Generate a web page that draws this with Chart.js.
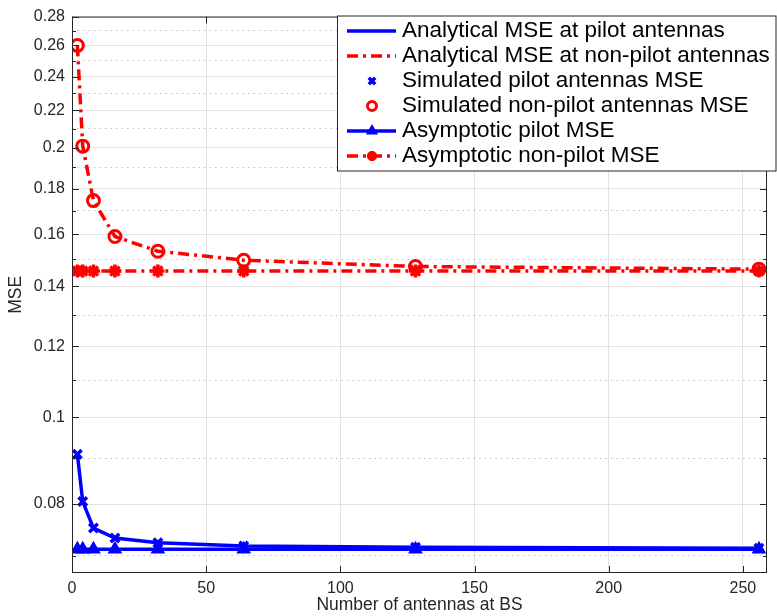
<!DOCTYPE html>
<html>
<head>
<meta charset="utf-8">
<script src="https://cdn.jsdelivr.net/npm/chart.js@4.4.0/dist/chart.umd.min.js"></script>
<style>
  html, body { margin: 0; padding: 0; background: #fff; }
  #wrap { width: 777px; height: 616px; }
</style>
</head>
<body>
<div id="wrap"><canvas id="chart" width="777" height="616"></canvas></div>
<script>
// number of BS antennas
const antennas = [2, 4, 8, 16, 32, 64, 128, 256];

const analyticalPilot    = [0.0909, 0.0805, 0.0752, 0.0733, 0.0724, 0.0718, 0.0716, 0.0714];
const analyticalNonPilot = [0.2600, 0.2007, 0.1745, 0.1591, 0.1532, 0.1497, 0.1473, 0.1463];
const simulatedPilot     = [0.0909, 0.0805, 0.0752, 0.0733, 0.0724, 0.0718, 0.0716, 0.0714];
const simulatedNonPilot  = [0.2600, 0.2007, 0.1745, 0.1591, 0.1532, 0.1497, 0.1473, 0.1463];
const asymptoticPilot    = [0.0712, 0.0712, 0.0712, 0.0712, 0.0712, 0.0712, 0.0712, 0.0712];
const asymptoticNonPilot = [0.1456, 0.1456, 0.1456, 0.1456, 0.1456, 0.1456, 0.1456, 0.1456];

const seriesLabels = [
  'Analytical MSE at pilot antennas',
  'Analytical MSE at non-pilot antennas',
  'Simulated pilot antennas MSE',
  'Simulated non-pilot antennas MSE',
  'Asymptotic pilot MSE',
  'Asymptotic non-pilot MSE'
];

const xTicks = [0, 50, 100, 150, 200, 250];
const yMajorTicks = [0.08, 0.10, 0.12, 0.14, 0.16, 0.18, 0.20, 0.22, 0.24, 0.26, 0.28];
const yMinorTicks = [0.07, 0.09, 0.11, 0.13, 0.15, 0.17, 0.19, 0.21, 0.23, 0.25, 0.27];

const FONT = '"Liberation Sans", Arial, Helvetica, sans-serif';
const AXIS = '#262626';
const BLUE = '#0000ff';
const RED = '#ff0000';
const DASHDOT = [11, 5, 3, 5];

Chart.defaults.font.family = FONT;

const isMajor = v => yMajorTicks.some(t => Math.abs(t - v) < 1e-6);
const pts = ys => antennas.map((x, i) => ({ x: x, y: ys[i] }));

// axes box, inward tick marks and the legend box, drawn like the original figure
const framePlugin = {
  id: 'frame',
  afterDatasetsDraw(chart) {
    const ctx = chart.ctx;
    const a = chart.chartArea;
    const xs = chart.scales.x, ys = chart.scales.y;
    ctx.save();
    ctx.strokeStyle = AXIS;
    ctx.lineWidth = 1;
    ctx.setLineDash([]);
    ctx.strokeRect(a.left + 0.5, a.top + 0.5, a.right - a.left - 1, a.bottom - a.top - 1);
    ctx.beginPath();
    xTicks.forEach(v => {
      const px = Math.round(xs.getPixelForValue(v)) + 0.5;
      ctx.moveTo(px, a.bottom); ctx.lineTo(px, a.bottom - 7);
      ctx.moveTo(px, a.top); ctx.lineTo(px, a.top + 7);
    });
    yMajorTicks.concat(yMinorTicks).forEach(v => {
      const py = Math.round(ys.getPixelForValue(v)) + 0.5;
      const len = isMajor(v) ? 7 : 4;
      ctx.moveTo(a.left, py); ctx.lineTo(a.left + len, py);
      ctx.moveTo(a.right, py); ctx.lineTo(a.right - len, py);
    });
    ctx.stroke();
    ctx.restore();
  },
  afterDraw(chart) {
    const ctx = chart.ctx;
    const box = { left: 337.5, top: 16, right: 776, bottom: 171 };
    ctx.save();
    ctx.fillStyle = '#fff';
    ctx.fillRect(box.left, box.top, box.right - box.left, box.bottom - box.top);
    ctx.strokeStyle = AXIS;
    ctx.lineWidth = 1;
    ctx.strokeRect(box.left, box.top, box.right - box.left, box.bottom - box.top);

    chart.data.datasets.forEach((ds, i) => {
      const y = 31 + 25 * i;
      if (ds.showLine) {
        ctx.save();
        ctx.strokeStyle = ds.borderColor;
        ctx.lineWidth = ds.borderWidth;
        ctx.setLineDash(ds.borderDash || []);
        ctx.beginPath();
        ctx.moveTo(347, y); ctx.lineTo(396, y);
        ctx.stroke();
        ctx.restore();
      }
      if (ds.pointRadius > 0) {
        ctx.save();
        ctx.setLineDash([]);
        ctx.strokeStyle = ds.borderColor;
        ctx.fillStyle = ds.pointBackgroundColor || ds.borderColor;
        ctx.lineWidth = ds.pointBorderWidth;
        Chart.helpers.drawPoint(ctx, {
          pointStyle: ds.pointStyle, rotation: 0,
          radius: ds.pointRadius - 1.5, borderWidth: ds.pointBorderWidth
        }, 372, y);
        ctx.restore();
      }
      ctx.fillStyle = '#000';
      ctx.font = '22.5px ' + FONT;
      ctx.textBaseline = 'alphabetic';
      ctx.fillText(seriesLabels[i], 402, 37 + 25 * i);
    });
    ctx.restore();
  }
};

new Chart(document.getElementById('chart'), {
  type: 'scatter',
  data: {
    datasets: [
      {
        label: seriesLabels[0], data: pts(analyticalPilot), showLine: true,
        borderColor: BLUE, backgroundColor: BLUE, borderWidth: 3.5, pointRadius: 0, order: 6
      },
      {
        label: seriesLabels[1], data: pts(analyticalNonPilot), showLine: true,
        borderColor: RED, backgroundColor: RED, borderWidth: 3.5, borderDash: DASHDOT, pointRadius: 0, order: 5
      },
      {
        label: seriesLabels[2], data: pts(simulatedPilot), showLine: false,
        borderColor: BLUE, backgroundColor: BLUE, pointStyle: 'crossRot', pointRadius: 6, pointBorderWidth: 3.5, order: 4
      },
      {
        label: seriesLabels[3], data: pts(simulatedNonPilot), showLine: false,
        borderColor: RED, backgroundColor: 'rgba(0,0,0,0)', pointBackgroundColor: 'rgba(0,0,0,0)',
        pointStyle: 'circle', pointRadius: 6, pointBorderWidth: 3, order: 3
      },
      {
        label: seriesLabels[4], data: pts(asymptoticPilot), showLine: true,
        borderColor: BLUE, backgroundColor: BLUE, pointBackgroundColor: BLUE, borderWidth: 3.5,
        pointStyle: 'triangle', pointRadius: 6.5, pointBorderWidth: 2, order: 2
      },
      {
        label: seriesLabels[5], data: pts(asymptoticNonPilot), showLine: true,
        borderColor: RED, backgroundColor: RED, pointBackgroundColor: RED, borderWidth: 3.5, borderDash: DASHDOT,
        pointStyle: 'star', pointRadius: 6.5, pointBorderWidth: 3.5, order: 1
      }
    ]
  },
  options: {
    responsive: false,
    animation: false,
    devicePixelRatio: 1,
    layout: { padding: { top: 16, right: 1, bottom: 0, left: 0 } },
    plugins: { legend: { display: false }, tooltip: { enabled: false } },
    scales: {
      x: {
        type: 'linear', min: 0, max: 259,
        afterBuildTicks: s => { s.ticks = xTicks.map(v => ({ value: v })); },
        afterFit: s => { s.height = 43; },
        ticks: { color: AXIS, font: { size: 16 }, padding: 6, maxRotation: 0, autoSkip: false },
        grid: { color: '#e2e2e2', lineWidth: 1, drawTicks: false },
        border: { display: false },
        title: { display: true, text: 'Number of antennas at BS', color: AXIS, font: { size: 17.5 }, padding: { top: 0, bottom: 0 } }
      },
      y: {
        type: 'logarithmic', min: 0.067, max: 0.28,
        afterBuildTicks: s => {
          s.ticks = yMinorTicks.concat(yMajorTicks).sort((p, q) => p - q).map(v => ({ value: v }));
        },
        afterFit: s => { s.width = 72; },
        ticks: {
          color: AXIS, font: { size: 16 }, padding: 7, autoSkip: false,
          callback: v => isMajor(v) ? String(Number(v.toFixed(2))) : ''
        },
        grid: {
          drawTicks: false, lineWidth: 1,
          color: c => (c.tick && !isMajor(c.tick.value)) ? '#c4c4c4' : '#e2e2e2'
        },
        border: {
          display: false,
          dash: c => (c.tick && !isMajor(c.tick.value)) ? [1.5, 4] : []
        },
        title: { display: true, text: 'MSE', color: AXIS, font: { size: 17.5 }, padding: { top: 6, bottom: 0 } }
      }
    }
  },
  plugins: [framePlugin]
});
</script>
</body>
</html>
